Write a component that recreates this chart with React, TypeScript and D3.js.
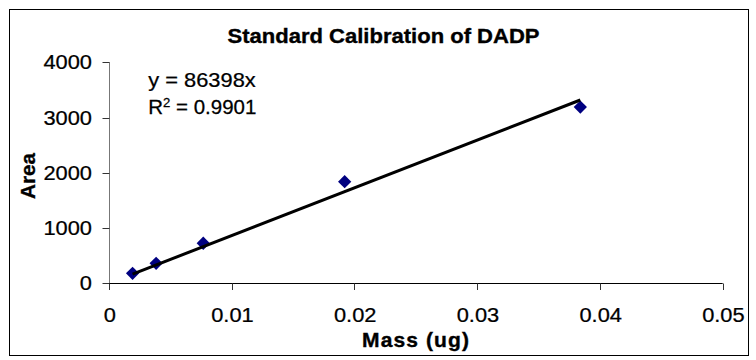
import React from "react";
import * as d3 from "d3";

const massUg = [0.00192, 0.00384, 0.00768, 0.0192, 0.0384];
const areaValues = [181, 362, 725, 1840, 3190];
const xTicks = [0, 0.01, 0.02, 0.03, 0.04, 0.05];
const xTickLabels = ["0", "0.01", "0.02", "0.03", "0.04", "0.05"];
const yTicks = [0, 1000, 2000, 3000, 4000];
const yTickLabels = ["0", "1000", "2000", "3000", "4000"];
const trendSlope = 86398;
const equationText = "y = 86398x";
const r2Value = "0.9901";
const chartTitle = "Standard Calibration of DADP";
const xAxisTitle = "Mass (ug)";
const yAxisTitle = "Area";

const W = 756;
const H = 360;
const FONT = "Arial, 'Liberation Sans', Helvetica, sans-serif";

type TProps = {
  x: number;
  y: number;
  anchor?: "start" | "middle" | "end";
  size?: number;
  sx?: number;
  bold?: boolean;
  rotate?: number;
  dy?: string;
  ls?: number;
  children: React.ReactNode;
};

function T({ x, y, anchor = "start", size = 19.5, sx = 1.12, bold = false, rotate = 0, dy, ls = 0, children }: TProps) {
  return (
    <g transform={`translate(${x},${y}) rotate(${rotate}) scale(${sx},1)`}>
      <text
        x={0}
        y={0}
        dy={dy}
        textAnchor={anchor}
        fontSize={size}
        fontWeight={bold ? "bold" : "normal"}
        letterSpacing={ls}
        fill="#000"
        stroke="#000"
        strokeWidth={bold ? 0.35 : 0.25}
      >
        {children}
      </text>
    </g>
  );
}

export default function App() {
  const x = d3.scaleLinear().domain([0, 0.05]).range([109, 722.7]);
  const y = d3.scaleLinear().domain([0, 4000]).range([283.3, 62.3]);

  const trendX = [d3.min(massUg) as number, d3.max(massUg) as number];
  const line = d3
    .line<number>()
    .x((d) => x(d))
    .y((d) => y(trendSlope * d));

  const diamond = d3.symbol().type(d3.symbolSquare).size(88)();

  const x0 = x(0);
  const y0 = y(0);

  return (
    <svg
      width={W}
      height={H}
      style={{ position: "absolute", left: 0, top: 0, background: "#fff" }}
      fontFamily={FONT}
    >
      <rect x={0} y={0} width={W} height={H} fill="#fff" />
      <rect x={9.5} y={9.5} width={739} height={346} fill="none" stroke="#000" strokeWidth={1} />

      <T x={383.5} y={43.3} anchor="middle" bold sx={1.13}>
        {chartTitle}
      </T>

      {/* Y axis */}
      <line x1={Math.round(x0) + 0.5} x2={Math.round(x0) + 0.5} y1={y(4000)} y2={y0} stroke="#777" strokeWidth={1} />
      {yTicks.map((t, i) => (
        <g key={"yt" + i}>
          <line
            x1={Math.round(x0) - 7 + 0.5}
            x2={Math.round(x0) + 0.5}
            y1={Math.round(y(t)) + 0.5}
            y2={Math.round(y(t)) + 0.5}
            stroke="#333"
            strokeWidth={1}
          />
          <T x={92} y={y(t)} dy="0.36em" anchor="end">
            {yTickLabels[i]}
          </T>
        </g>
      ))}

      {/* X axis */}
      <line x1={x0} x2={x(0.05)} y1={Math.round(y0) + 0.5} y2={Math.round(y0) + 0.5} stroke="#000" strokeWidth={1} />
      {xTicks.map((t, i) => (
        <g key={"xt" + i}>
          <line
            x1={Math.round(x(t)) + 0.5}
            x2={Math.round(x(t)) + 0.5}
            y1={Math.round(y0) + 0.5}
            y2={Math.round(y0) + 7}
            stroke="#333"
            strokeWidth={1}
          />
          <T x={x(t) + 0.7} y={321.7} anchor="middle">
            {xTickLabels[i]}
          </T>
        </g>
      ))}

      <T x={416} y={347.3} anchor="middle" bold sx={1.08} ls={1}>
        {xAxisTitle}
      </T>

      <T x={35} y={176} anchor="middle" bold rotate={-90} sx={1.06}>
        {yAxisTitle}
      </T>

      {/* Markers */}
      {massUg.map((m, i) => (
        <path
          key={"pt" + i}
          d={diamond as string}
          transform={`translate(${x(m)},${y(areaValues[i])}) rotate(45)`}
          fill="#000080"
        />
      ))}

      {/* Trendline */}
      <path d={line(trendX) as string} fill="none" stroke="#000" strokeWidth={3} />

      {/* Equation */}
      <T x={148.3} y={86.7}>
        {equationText}
      </T>
      <T x={148.3} y={114} sx={1.05}>
        R
        <tspan fontSize={12.5} dy={-7}>
          2
        </tspan>
        <tspan dy={7}>{" = " + r2Value}</tspan>
      </T>
    </svg>
  );
}
